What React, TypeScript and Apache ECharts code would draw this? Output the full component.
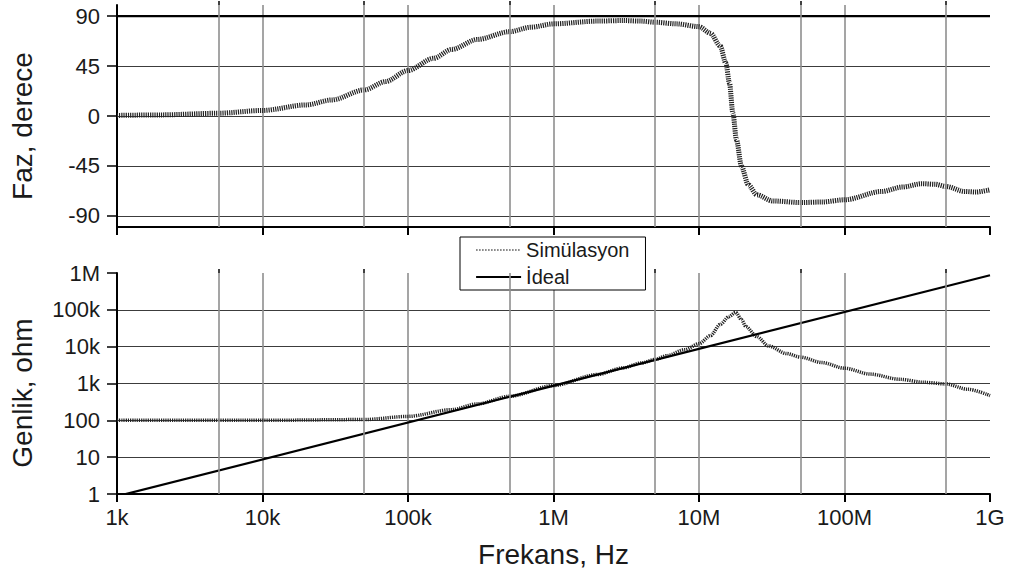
import { useEffect, useRef } from "react";
import * as echarts from "echarts";

const FONT = "'Liberation Sans', Arial, Helvetica, sans-serif";

// Frequency axis tick labels (decades 1k .. 1G)
const freqTickLabels = ["1k", "10k", "100k", "1M", "10M", "100M", "1G"];
// Magnitude axis tick labels (decades 1 .. 1M)
const magTickLabels = ["1", "10", "100", "1k", "10k", "100k", "1M"];
// Phase axis ticks
const phaseTicks = [-90, -45, 0, 45, 90];
// Extra vertical grid lines at 5x of each decade
const halfDecades = [5e3, 5e4, 5e5, 5e6, 5e7, 5e8];

// Simulation: phase (degrees)
const phaseFreq = [
  1e3, 2e3, 5e3, 1e4, 2e4, 3e4, 5e4, 7e4, 1e5, 1.5e5, 2e5, 3e5, 5e5, 7e5, 1e6,
  2e6, 3e6, 4e6, 5e6, 7e6, 1e7, 1.2e7, 1.4e7, 1.53e7, 1.62e7, 1.71e7, 1.81e7,
  1.96e7, 2.18e7, 2.5e7, 3.2e7, 5e7, 7e7, 1e8, 1.8e8, 2.5e8, 3.4e8, 4.2e8, 5e8,
  6.7e8, 8e8, 1e9,
];
const phaseDeg = [
  0.5, 1, 2.5, 5, 10, 14.5, 23.5, 31, 41, 52, 60, 69, 76, 80, 83, 85.5, 86, 85.5,
  84.5, 83, 80.5, 74.5, 63, 47.5, 29.5, 2.5, -21.5, -45.5, -62, -71, -76.5, -78,
  -77.5, -75.5, -68, -64, -61, -61.5, -63.5, -68, -68.5, -66.5,
];

// Simulation: magnitude (ohm)
const magFreq = [
  1e3, 1e4, 5e4, 1e5, 2e5, 3e5, 5e5, 1e6, 2e6, 3e6, 4e6, 5e6, 6e6, 8e6, 1e7,
  1.2e7, 1.4e7, 1.6e7, 1.79e7, 1.96e7, 2.1e7, 2.5e7, 3e7, 4e7, 5e7, 7e7, 1e8,
  1.5e8, 2.4e8, 3.5e8, 5e8, 7e8, 1e9,
];
const magOhm = [
  100, 100, 105, 128, 195, 280, 450, 880, 1750, 2650, 3600, 4500, 5700, 8300,
  12000, 20000, 40000, 65000, 85000, 54000, 35000, 18800, 10500, 6500, 5200,
  3700, 2600, 1800, 1300, 1080, 970, 700, 470,
];

// Ideal
const idealFreq = [1e3, 1e9];
const idealPhase = [90, 90];
const idealMag = [0.87, 8.7e5];

const pairs = (xs: number[], ys: number[]) => xs.map((x, i) => [x, ys[i]]);

const TEXT = "#1a1a1a";
const AXIS = "#000";
const VGRID = "#8f8f8f";
const HGRID = "#3c3c3c";
const SIM = "#222";

const fmtFreq = (v: number) => freqTickLabels[Math.round(Math.log10(v)) - 3] ?? "";
const fmtMag = (v: number) => magTickLabels[Math.round(Math.log10(v))] ?? "";

function mainX(gridIndex: number, showLabels: boolean) {
  return {
    type: "log",
    logBase: 10,
    gridIndex,
    min: 1e3,
    max: 1e9,
    axisLine: { show: true, onZero: false, lineStyle: { color: AXIS, width: 2 } },
    axisTick: { show: true, inside: false, length: 8, lineStyle: { color: AXIS, width: 2 } },
    splitLine: {
      show: true,
      showMinLine: false,
      showMaxLine: false,
      lineStyle: { color: VGRID, width: 1.6 },
    },
    axisLabel: {
      show: showLabels,
      formatter: fmtFreq,
      margin: 12,
      fontSize: 22,
      fontFamily: FONT,
      color: TEXT,
    },
    name: showLabels ? "Frekans, Hz" : "",
    nameLocation: "middle",
    nameGap: 46,
    nameTextStyle: { fontSize: 28, fontFamily: FONT, color: TEXT },
  };
}

function minorX(gridIndex: number) {
  return {
    type: "log",
    logBase: 10,
    gridIndex,
    min: 1e3,
    max: 1e9,
    axisLine: { show: false, onZero: false },
    axisTick: {
      show: true,
      length: 4,
      customValues: halfDecades,
      lineStyle: { color: AXIS, width: 1.5 },
    },
    axisLabel: { show: false },
    splitLine: { show: false },
  };
}

const vLines = {
  silent: true,
  symbol: ["none", "none"],
  label: { show: false },
  lineStyle: { color: VGRID, width: 1.6, type: "solid" },
  emphasis: { disabled: true },
  data: halfDecades.map((v) => ({ xAxis: v })),
};

const hiddenSymbol = { color: "rgba(0,0,0,0)", borderWidth: 0, opacity: 0 };

const option = {
  animation: false,
  backgroundColor: "#fff",
  color: [SIM, "#000"],
  textStyle: { fontFamily: FONT },
  grid: [
    { left: 117, top: 5, width: 873, height: 222 },
    { left: 117, top: 273, width: 873, height: 221 },
  ],
  xAxis: [mainX(0, false), mainX(1, true), minorX(0), minorX(1)],
  yAxis: [
    {
      type: "value",
      gridIndex: 0,
      min: -100,
      max: 100,
      axisLine: { show: true, onZero: false, lineStyle: { color: AXIS, width: 2 } },
      axisTick: {
        show: true,
        length: 10,
        customValues: phaseTicks,
        lineStyle: { color: AXIS, width: 1.5 },
      },
      axisLabel: {
        customValues: phaseTicks,
        margin: 17,
        fontSize: 22,
        fontFamily: FONT,
        color: TEXT,
      },
      splitLine: {
        show: true,
        customValues: phaseTicks,
        lineStyle: { color: HGRID, width: 1 },
      },
    },
    {
      type: "log",
      logBase: 10,
      gridIndex: 1,
      min: 1,
      max: 1e6,
      axisLine: { show: true, onZero: false, lineStyle: { color: AXIS, width: 2 } },
      axisTick: { show: true, length: 10, lineStyle: { color: AXIS, width: 1.5 } },
      axisLabel: {
        formatter: fmtMag,
        margin: 17,
        fontSize: 22,
        fontFamily: FONT,
        color: TEXT,
      },
      splitLine: {
        show: true,
        showMaxLine: false,
        showMinLine: false,
        lineStyle: { color: HGRID, width: 1 },
      },
    },
  ],
  legend: {
    left: 460,
    top: 237,
    orient: "vertical",
    backgroundColor: "#fff",
    borderColor: "#000",
    borderWidth: 1,
    borderRadius: 0,
    padding: [3, 16, 3, 15],
    itemGap: 7,
    itemWidth: 45,
    itemHeight: 14,
    textStyle: { fontSize: 20, fontFamily: FONT, color: TEXT, lineHeight: 20 },
    data: [
      {
        name: "Simülasyon",
        itemStyle: hiddenSymbol,
        lineStyle: { width: 1.5, type: [1.5, 1.5], color: "#555" },
      },
      { name: "İdeal", itemStyle: hiddenSymbol, lineStyle: { width: 2.2, color: "#000" } },
    ],
  },
  graphic: [
    {
      type: "text",
      x: 22,
      y: 126,
      rotation: Math.PI / 2,
      style: {
        text: "Faz, derece",
        font: `28px ${FONT}`,
        fill: TEXT,
        align: "center",
        verticalAlign: "middle",
      },
    },
    {
      type: "text",
      x: 22,
      y: 393,
      rotation: Math.PI / 2,
      style: {
        text: "Genlik, ohm",
        font: `28px ${FONT}`,
        fill: TEXT,
        align: "center",
        verticalAlign: "middle",
      },
    },
  ],
  series: [
    {
      name: "Simülasyon",
      type: "line",
      xAxisIndex: 0,
      yAxisIndex: 0,
      data: pairs(phaseFreq, phaseDeg),
      symbol: "none",
      color: SIM,
      smooth: 0.3,
      smoothMonotone: "x",
      lineStyle: { color: SIM, width: 5, type: [1.2, 1] },
      markLine: vLines,
      z: 3,
    },
    {
      name: "İdeal",
      type: "line",
      xAxisIndex: 0,
      yAxisIndex: 0,
      data: pairs(idealFreq, idealPhase),
      symbol: "none",
      color: "#000",
      lineStyle: { color: "#000", width: 2.2 },
      z: 4,
    },
    {
      name: "Simülasyon",
      type: "line",
      xAxisIndex: 1,
      yAxisIndex: 1,
      data: pairs(magFreq, magOhm),
      symbol: "none",
      color: SIM,
      smooth: 0.3,
      smoothMonotone: "x",
      lineStyle: { color: SIM, width: 3.5, type: [1.2, 1] },
      markLine: vLines,
      z: 3,
    },
    {
      name: "İdeal",
      type: "line",
      xAxisIndex: 1,
      yAxisIndex: 1,
      data: pairs(idealFreq, idealMag),
      symbol: "none",
      color: "#000",
      clip: true,
      lineStyle: { color: "#000", width: 2.2 },
      z: 4,
    },
  ],
};

export default function App() {
  const ref = useRef<HTMLDivElement>(null);
  useEffect(() => {
    if (!ref.current) return;
    const chart = echarts.init(ref.current, null, { renderer: "svg" });
    chart.setOption(option as any);
    return () => chart.dispose();
  }, []);
  return (
    <div
      ref={ref}
      style={{ position: "fixed", left: 0, top: 0, width: 1016, height: 579, background: "#fff" }}
    />
  );
}
